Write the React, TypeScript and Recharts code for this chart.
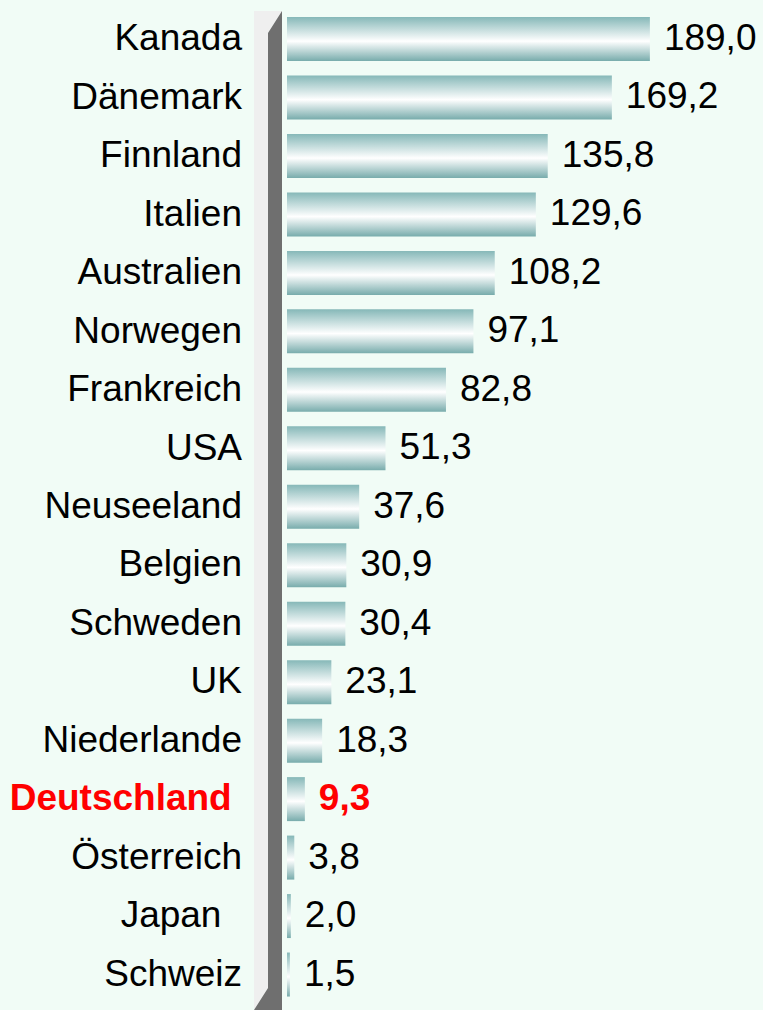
import { BarChart, Bar, XAxis, YAxis, LabelList, Customized, usePlotArea, useChartHeight } from 'recharts';

// trailing spaces are kept as in the source labels
const countries = [
  'Kanada', 'Dänemark', 'Finnland', 'Italien', 'Australien', 'Norwegen', 'Frankreich', 'USA',
  'Neuseeland', 'Belgien', 'Schweden', 'UK', 'Niederlande', 'Deutschland ', 'Österreich', 'Japan  ', 'Schweiz',
];
const values = [189.0, 169.2, 135.8, 129.6, 108.2, 97.1, 82.8, 51.3, 37.6, 30.9, 30.4, 23.1, 18.3, 9.3, 3.8, 2.0, 1.5];
const highlight = 'Deutschland ';

const data = countries.map((name, i) => ({ name, value: values[i] }));

const FONT = '"Liberation Sans", Arial, sans-serif';

const fmt = (v: number) => v.toFixed(1).replace('.', ',');

const CountryTick = (props: any) => {
  const { x, y, payload } = props;
  const hi = payload.value === highlight;
  return (
    <text x={x} y={y} dy={11} textAnchor="end" fontFamily={FONT} fontSize={37}
      style={{ whiteSpace: 'pre' }}
      fontWeight={hi ? 'bold' : 'normal'} fill={hi ? '#ff0000' : '#000'}>
      {payload.value}
    </text>
  );
};

const ValueLabel = (props: any) => {
  const { x, y, width, height, value, index } = props;
  const hi = countries[index] === highlight;
  return (
    <text x={x + width + 14} y={y + height / 2} dy={11} fontFamily={FONT} fontSize={37}
      fontWeight={hi ? 'bold' : 'normal'} fill={hi ? '#ff0000' : '#000'}>
      {fmt(value)}
    </text>
  );
};

// the grey 3D wall on the left of the bars
const Wall = () => {
  const plot = usePlotArea();
  const chartH = useChartHeight();
  if (!plot || !chartH) return null;
  const left = plot.x;
  const top = plot.y;
  const bottom = chartH;
  return (
    <g>
      <polygon points={`${left - 33},${top + 1} ${left - 5},${top + 1} ${left - 19},${top + 23} ${left - 19},${bottom - 22} ${left - 33},${bottom}`} fill="#efefef" />
      <polygon points={`${left - 19},${top + 23} ${left - 5},${top + 1} ${left - 5},${bottom} ${left - 33},${bottom} ${left - 19},${bottom - 22}`} fill="#6f6f6f" />
    </g>
  );
};

export default function App() {
  return (
    <div style={{ width: 763, height: 1010, background: '#f1fcf6', position: 'absolute', left: 0, top: 0 }}>
      <BarChart width={763} height={1010} data={data} layout="vertical"
        margin={{ top: 10, right: 92, bottom: 6, left: 0 }} barCategoryGap={0}>
        <defs>
          <linearGradient id="barGrad" x1="0" y1="0" x2="0" y2="1">
            <stop offset="0%" stopColor="#86b8b8" />
            <stop offset="55%" stopColor="#ffffff" />
            <stop offset="100%" stopColor="#78acac" />
          </linearGradient>
        </defs>
        <Customized component={<Wall />} />
        <XAxis type="number" domain={[0, 200]} hide />
        <YAxis type="category" dataKey="name" width={287} axisLine={false} tickLine={false}
          tick={<CountryTick />} tickMargin={39} interval={0} />
        <Bar dataKey="value" fill="url(#barGrad)" barSize={44} isAnimationActive={false}>
          <LabelList dataKey="value" content={<ValueLabel />} />
        </Bar>
      </BarChart>
    </div>
  );
}
